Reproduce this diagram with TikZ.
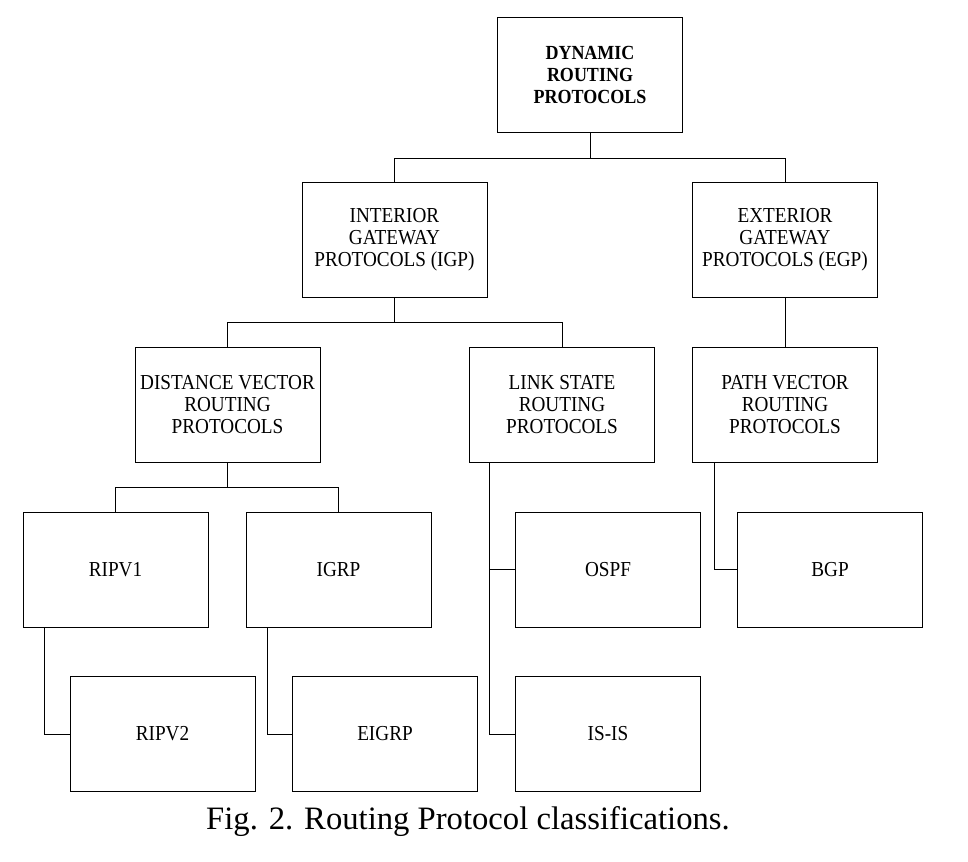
\documentclass[tikz,border=0pt]{standalone}
\usepackage{fontspec}
\setmainfont{Liberation Serif}
\newcommand{\nar}[1]{\scalebox{0.9}[1]{#1}}
\begin{document}
\tikzset{every picture/.style={line width=0.75pt}}
\tikzset{box/.style={draw,minimum width=138.75pt,minimum height=86.25pt,align=center,inner sep=2pt,font=\fontsize{16}{16.5}\selectfont}}

\begin{tikzpicture}[x=0.75pt,y=0.75pt,yscale=-1,xscale=1]
\useasboundingbox (0,0) rectangle (968,861);

%Shape: Rectangle [id:dyn]
\node [box,font=\fontsize{15}{16.5}\selectfont\bfseries] (dyn) at (590,74.5) {\nar{DYNAMIC}\\\nar{ROUTING}\\\nar{PROTOCOLS}};
%Shape: Rectangle [id:igp]
\node [box] (igp) at (394.5,240) {\nar{INTERIOR}\\\nar{GATEWAY}\\\nar{PROTOCOLS (IGP)}};
%Shape: Rectangle [id:egp]
\node [box] (egp) at (785,240) {\nar{EXTERIOR}\\\nar{GATEWAY}\\\nar{PROTOCOLS (EGP)}};
%Shape: Rectangle [id:dvr]
\node [box] (dvr) at (227.5,404.5) {\nar{DISTANCE VECTOR}\\\nar{ROUTING}\\\nar{PROTOCOLS}};
%Shape: Rectangle [id:lsr]
\node [box] (lsr) at (562,404.5) {\nar{LINK STATE}\\\nar{ROUTING}\\\nar{PROTOCOLS}};
%Shape: Rectangle [id:pvr]
\node [box] (pvr) at (785,404.5) {\nar{PATH VECTOR}\\\nar{ROUTING}\\\nar{PROTOCOLS}};
%Shape: Rectangle [id:rip1]
\node [box] (rip1) at (115.5,569.5) {\nar{RIPV1}};
%Shape: Rectangle [id:igrp]
\node [box] (igrp) at (338.5,569.5) {\nar{IGRP}};
%Shape: Rectangle [id:ospf]
\node [box] (ospf) at (608,569.5) {\nar{OSPF}};
%Shape: Rectangle [id:bgp]
\node [box] (bgp) at (830,569.5) {\nar{BGP}};
%Shape: Rectangle [id:rip2]
\node [box] (rip2) at (162.5,734) {\nar{RIPV2}};
%Shape: Rectangle [id:eigrp]
\node [box] (eigrp) at (385,734) {\nar{EIGRP}};
%Shape: Rectangle [id:isis]
\node [box] (isis) at (608,734) {\nar{IS-IS}};

%Straight Lines [id:tree]
\draw (dyn.south) -- ++(0,26) -| (igp.north);
\draw (dyn.south) ++(0,26) -| (egp.north);
\draw (igp.south) -- ++(0,24) -| (dvr.north);
\draw (igp.south) ++(0,24) -| (lsr.north);
\draw (egp.south) -- (pvr.north);
\draw (dvr.south) -- ++(0,25) -| (rip1.north);
\draw (dvr.south) ++(0,25) -| (igrp.north);
%Straight Lines [id:side]
\draw ([xshift=16.5pt]rip1.south west) |- (rip2.west);
\draw ([xshift=16.5pt]igrp.south west) |- (eigrp.west);
\draw ([xshift=15pt]lsr.south west) |- (ospf.west);
\draw ([xshift=15pt]lsr.south west) |- (isis.west);
\draw ([xshift=16.5pt]pvr.south west) |- (bgp.west);

% Text Node
\node [font=\fontsize{24.5}{28}\selectfont] (cap) at (468,822) {Fig. 2. Routing Protocol classifications.};
\end{tikzpicture}
\end{document}
